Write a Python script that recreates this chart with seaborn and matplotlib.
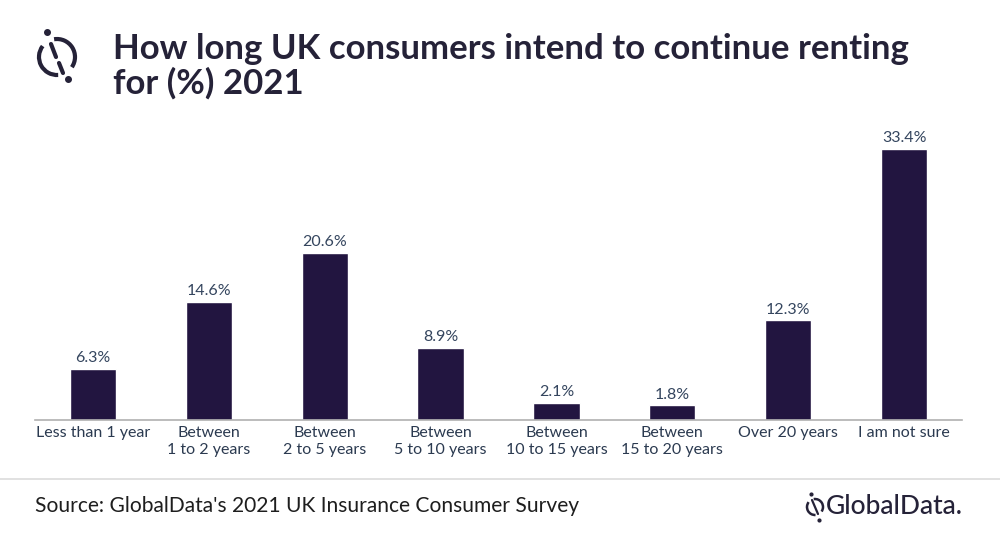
import matplotlib
matplotlib.use("Agg")
import matplotlib.pyplot as plt
import seaborn as sns
import pandas as pd
from matplotlib.patches import Arc
from matplotlib.lines import Line2D

categories = ["Less than 1 year", "Between\n1 to 2 years", "Between\n2 to 5 years",
              "Between\n5 to 10 years", "Between\n10 to 15 years", "Between\n15 to 20 years",
              "Over 20 years", "I am not sure"]
values = [6.3, 14.6, 20.6, 8.9, 2.1, 1.8, 12.3, 33.4]
value_labels = ["6.3%", "14.6%", "20.6%", "8.9%", "2.1%", "1.8%", "12.3%", "33.4%"]

title = "How long UK consumers intend to continue renting\nfor (%) 2021"
source = "Source: GlobalData's 2021 UK Insurance Consumer Survey"

sns.set_theme(style="white")
plt.rcParams['font.family'] = ['Lato', 'DejaVu Sans']

BAR = "#221540"
TXT = "#2b3a50"
LBL = "#34455e"

df = pd.DataFrame({"cat": categories, "val": values})

fig = plt.figure(figsize=(10, 5.35), dpi=100)
ax = fig.add_axes([0.035, 0.215, 0.927, 0.546])
sns.barplot(data=df, x="cat", y="val", color=BAR, width=0.4, saturation=1, ax=ax)
ax.set_ylim(0, 36)
ax.set_xlim(-0.5, len(categories) - 0.5)
ax.set_xlabel("")
ax.set_ylabel("")
ax.set_yticks([])
for s in ["top", "right", "left"]:
    ax.spines[s].set_visible(False)
ax.spines["bottom"].set_color("#b0b0b0")
ax.spines["bottom"].set_linewidth(1.2)
ax.tick_params(axis="x", length=0, pad=4, labelsize=11.5, labelcolor=TXT)
for lab in ax.get_xticklabels():
    lab.set_linespacing(1.35)

for i, (v, t) in enumerate(zip(values, value_labels)):
    ax.annotate(t, (i, v), xytext=(0, 2.5), textcoords="offset points",
                ha="center", va="bottom", fontsize=11.5, color=LBL)

# Title
fig.text(0.113, 1 - 33 / 535, title, fontsize=25, fontweight="bold", color="#252238",
         ha="left", va="top", linespacing=1.06)

def fx(x):
    return x / 1000
def fy(y):
    return 1 - y / 535

# Logo top-left
cx, cy, r = 57, 57, 18
lw = 3.0
col = "#252238"
fig.add_artist(Arc((fx(cx), fy(cy)), 2 * r / 1000, 2 * r / 535, theta1=125, theta2=272,
                   transform=fig.transFigure, color=col, lw=lw))
fig.add_artist(Arc((fx(cx), fy(cy)), 2 * r / 1000, 2 * r / 535, theta1=-52, theta2=95,
                   transform=fig.transFigure, color=col, lw=lw))
fig.add_artist(Line2D([fx(51), fx(56)], [fy(44), fy(57)], transform=fig.transFigure,
                      color=col, lw=lw, solid_capstyle="round"))
fig.add_artist(Line2D([fx(59), fx(63)], [fy(63), fy(73)], transform=fig.transFigure,
                      color=col, lw=lw, solid_capstyle="round"))
fig.add_artist(Line2D([fx(47)], [fy(32)], marker="o", markersize=4, color=col,
                      transform=fig.transFigure))
fig.add_artist(Line2D([fx(68)], [fy(79)], marker="o", markersize=4, color=col,
                      transform=fig.transFigure))

# Separator line
fig.add_artist(Line2D([0, 1], [fy(479), fy(479)], transform=fig.transFigure,
                      color="#dcdcdc", lw=1.2))

# Source
fig.text(0.035, fy(506), source, fontsize=15.1, color="#1e1e1e", ha="left", va="center")

# GlobalData logo bottom-right
fig.text(0.826, fy(507), "GlobalData.", fontsize=19, color="#252238", ha="left",
         va="center", fontweight="medium")
lcx, lcy, lr = 815, 507, 8
fig.add_artist(Arc((fx(lcx), fy(lcy)), 2 * lr / 1000, 2 * lr / 535, theta1=125, theta2=272,
                   transform=fig.transFigure, color=col, lw=1.8))
fig.add_artist(Arc((fx(lcx), fy(lcy)), 2 * lr / 1000, 2 * lr / 535, theta1=-52, theta2=95,
                   transform=fig.transFigure, color=col, lw=1.8))
fig.add_artist(Line2D([fx(812), fx(818)], [fy(500), fy(514)], transform=fig.transFigure,
                      color=col, lw=1.6))
fig.add_artist(Line2D([fx(811)], [fy(494)], marker="o", markersize=2, color=col,
                      transform=fig.transFigure))
fig.add_artist(Line2D([fx(819)], [fy(520)], marker="o", markersize=2, color=col,
                      transform=fig.transFigure))

fig.savefig("out.png", dpi=100, facecolor="white")
